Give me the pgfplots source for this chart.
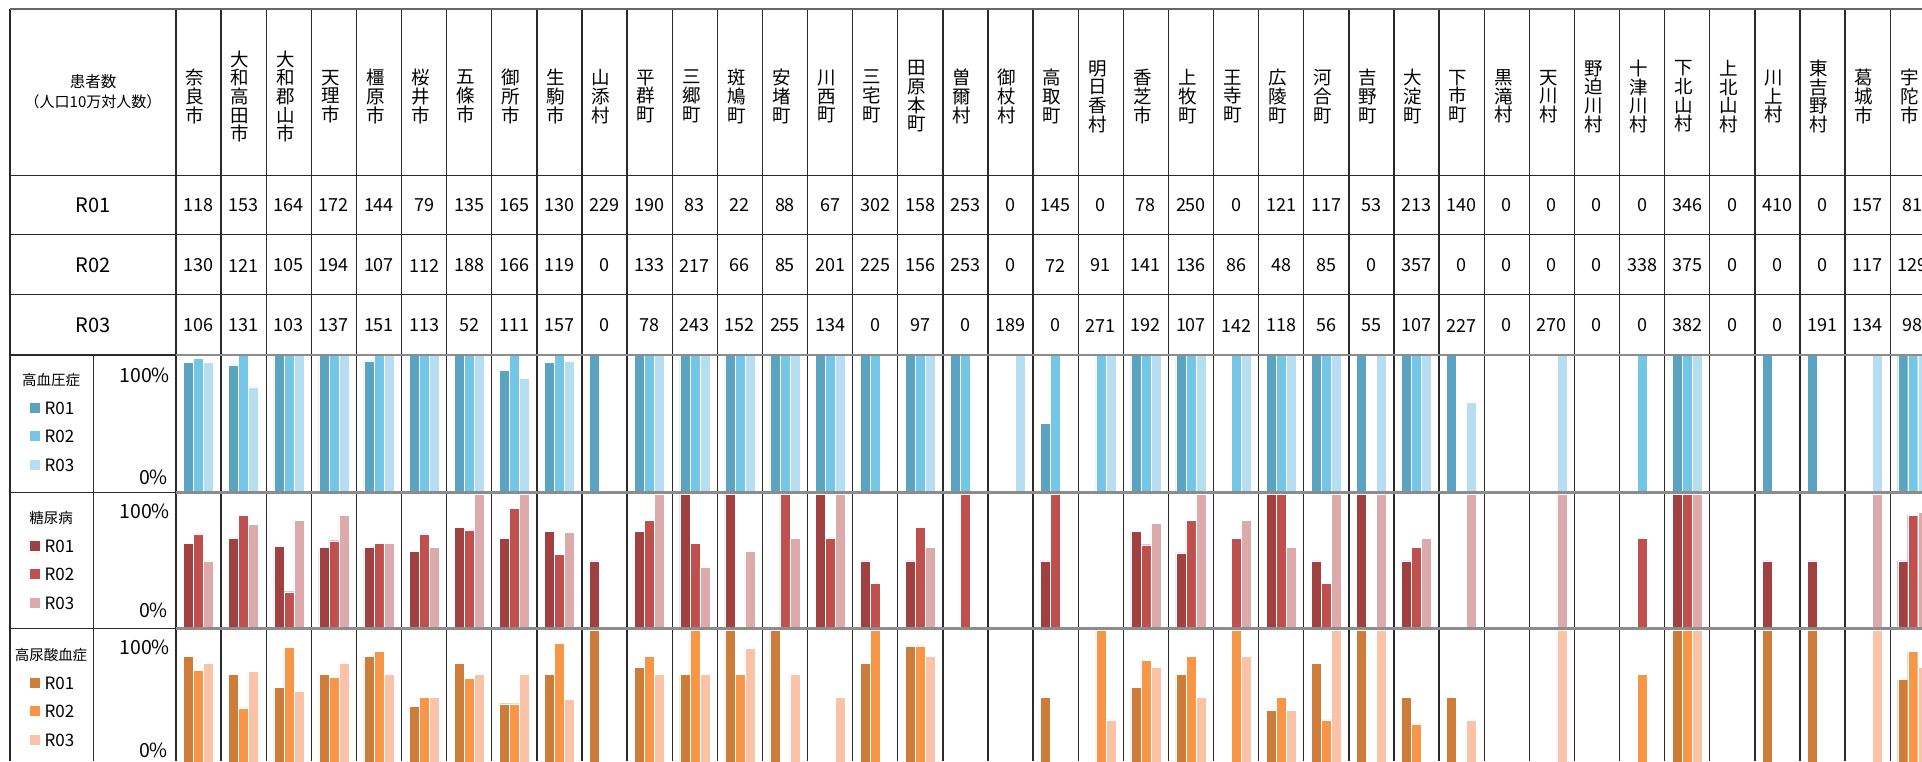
\documentclass[border=0pt]{standalone}
\usepackage{fontspec}
\usepackage{pgfplots}
\usepackage{pgfplotstable}
\pgfplotsset{compat=1.18}
\newfontfamily\jp{Noto Sans CJK JP}

\definecolor{hA}{HTML}{5BA4C1}
\definecolor{hB}{HTML}{74C6E6}
\definecolor{hC}{HTML}{B6DEF0}
\definecolor{dA}{HTML}{A04040}
\definecolor{dB}{HTML}{C0504D}
\definecolor{dC}{HTML}{DCAAAA}
\definecolor{uA}{HTML}{CD7C39}
\definecolor{uB}{HTML}{F79646}
\definecolor{uC}{HTML}{FAC2A6}
\definecolor{gridgray}{HTML}{8C8C8C}
\definecolor{lineblk}{HTML}{2A2A2A}

% hypertension share (%)
\pgfplotstableread{
x R01 R02 R03
0.5 95 98 95
1.5 93 100 77
2.5 100 100 100
3.5 100 100 100
4.5 96 100 100
5.5 100 100 100
6.5 100 100 100
7.5 89 100 83
8.5 95 100 96
9.5 100 0 0
10.5 100 100 100
11.5 100 100 100
12.5 100 100 100
13.5 100 100 100
14.5 100 100 100
15.5 100 100 0
16.5 100 100 100
17.5 100 100 0
18.5 0 0 100
19.5 50 100 0
20.5 0 100 100
21.5 100 100 100
22.5 100 100 100
23.5 0 100 100
24.5 100 100 100
25.5 100 100 100
26.5 100 0 100
27.5 100 100 100
28.5 100 0 66
29.5 0 0 0
30.5 0 0 100
31.5 0 0 0
32.5 0 100 0
33.5 100 100 100
34.5 0 0 0
35.5 100 0 0
36.5 100 0 0
37.5 0 0 100
38.5 100 100 100
}\hyper

% diabetes share (%)
\pgfplotstableread{
x R01 R02 R03
0.5 63 70 50
1.5 67 84 77
2.5 61 27 80
3.5 60 65 84
4.5 60 63 63
5.5 57 70 60
6.5 75 73 100
7.5 67 89 100
8.5 72 55 71
9.5 50 0 0
10.5 72 80 100
11.5 100 63 45
12.5 100 0 57
13.5 0 100 67
14.5 100 67 100
15.5 50 33 0
16.5 50 75 60
17.5 0 100 0
18.5 0 0 0
19.5 50 100 0
20.5 0 0 0
21.5 72 62 78
22.5 56 80 100
23.5 0 67 80
24.5 100 100 60
25.5 50 33 100
26.5 100 0 100
27.5 50 60 67
28.5 0 0 100
29.5 0 0 0
30.5 0 0 100
31.5 0 0 0
32.5 0 67 0
33.5 100 100 100
34.5 0 0 0
35.5 50 0 0
36.5 50 0 0
37.5 0 0 100
38.5 50 84 86
}\diab

% hyperuricemia share (%)
\pgfplotstableread{
x R01 R02 R03
0.5 80 70 75
1.5 67 42 69
2.5 57 87 54
3.5 67 65 75
4.5 80 84 67
5.5 43 50 50
6.5 75 64 67
7.5 45 45 67
8.5 67 90 48
9.5 100 0 0
10.5 72 80 67
11.5 67 100 67
12.5 100 67 86
13.5 100 0 67
14.5 0 0 50
15.5 75 100 0
16.5 88 88 80
17.5 0 0 0
18.5 0 0 0
19.5 50 0 0
20.5 0 100 33
21.5 57 77 72
22.5 67 80 50
23.5 0 100 80
24.5 40 50 40
25.5 75 33 100
26.5 100 0 100
27.5 50 30 0
28.5 50 0 33
29.5 0 0 0
30.5 0 0 100
31.5 0 0 0
32.5 0 67 0
33.5 100 100 100
34.5 0 0 0
35.5 100 0 0
36.5 100 0 0
37.5 0 0 100
38.5 63 84 72
}\uric

\pgfplotsset{
  barrow/.style n args={2}{at={(176pt,#1)}, anchor=south west,
    scale only axis, width=1759.3pt, height=#2,
    xmin=0, xmax=39, ymin=0, ymax=100, hide axis, clip=true},
  b1/.style={ybar, bar width=10pt, bar shift=-10pt, draw=white, line width=0.4pt, fill=#1},
  b2/.style={ybar, bar width=10pt, bar shift=0pt, draw=white, line width=0.4pt, fill=#1},
  b3/.style={ybar, bar width=10pt, bar shift=10pt, draw=white, line width=0.4pt, fill=#1},
}

\begin{document}
\begin{tikzpicture}
\useasboundingbox (0,0) rectangle (1922pt,761pt);
\clip (0,0) rectangle (1922pt,761pt);

\begin{axis}[barrow={269pt}{136.7pt}]
\addplot[b1=hA] table[x=x,y=R01]{\hyper};
\addplot[b2=hB] table[x=x,y=R02]{\hyper};
\addplot[b3=hC] table[x=x,y=R03]{\hyper};
\end{axis}
\begin{axis}[barrow={133pt}{134.3pt}]
\addplot[b1=dA] table[x=x,y=R01]{\diab};
\addplot[b2=dB] table[x=x,y=R02]{\diab};
\addplot[b3=dC] table[x=x,y=R03]{\diab};
\end{axis}
\begin{axis}[barrow={-3.3pt}{134.6pt}]
\addplot[b1=uA] table[x=x,y=R01]{\uric};
\addplot[b2=uB] table[x=x,y=R02]{\uric};
\addplot[b3=uC] table[x=x,y=R03]{\uric};
\end{axis}

\begin{scope}[x=1pt, y=-1pt, yshift=761pt]
% column separators
\foreach \i in {0,...,38}
  \draw[lineblk, line width=1.3pt] ({176+45.11*\i},9) -- ({176+45.11*\i},761);
\draw[lineblk, line width=1.3pt] (10,9) -- (10,761);
\draw[lineblk, line width=1.3pt] (93.6,354.5) -- (93.6,761);
% horizontal rules
\draw[black!60, line width=2pt] (10,9) -- (1922,9);
\foreach \yy in {175.5,234.5,294.5}
  \draw[lineblk, line width=1.5pt] (10,\yy) -- (1922,\yy);
\foreach \yy in {355,492.5,628.5}{
  \draw[lineblk, line width=1.5pt] (10,\yy) -- (176,\yy);
  \draw[gridgray, line width=2.6pt] (176,\yy) -- (1922,\yy);
}

% header
\node[font=\jp\fontsize{15.5}{18}\selectfont, inner sep=0pt] at (93,82) {患者数};
\node[font=\jp\fontsize{15}{18}\selectfont, inner sep=0pt] at (93,101.5) {（人口10万対人数）};
\node[font=\jp\fontsize{20}{22}\selectfont, inner sep=0pt] at (93,205) {R01};
\node[font=\jp\fontsize{20}{22}\selectfont, inner sep=0pt] at (93,265.5) {R02};
\node[font=\jp\fontsize{20}{22}\selectfont, inner sep=0pt] at (93,325.5) {R03};

% municipality names
\foreach \nm [count=\i from 0] in {奈\\良\\市, 大\\和\\高\\田\\市, 大\\和\\郡\\山\\市, 天\\理\\市, 橿\\原\\市, 桜\\井\\市, 五\\條\\市, 御\\所\\市, 生\\駒\\市, 山\\添\\村, 平\\群\\町, 三\\郷\\町, 斑\\鳩\\町, 安\\堵\\町, 川\\西\\町, 三\\宅\\町, 田\\原\\本\\町, 曽\\爾\\村, 御\\杖\\村, 高\\取\\町, 明\\日\\香\\村, 香\\芝\\市, 上\\牧\\町, 王\\寺\\町, 広\\陵\\町, 河\\合\\町, 吉\\野\\町, 大\\淀\\町, 下\\市\\町, 黒\\滝\\村, 天\\川\\村, 野\\迫\\川\\村, 十\\津\\川\\村, 下\\北\\山\\村, 上\\北\\山\\村, 川\\上\\村, 東\\吉\\野\\村, 葛\\城\\市, 宇\\陀\\市}
  \node[font=\jp\fontsize{18.5}{18.7}\selectfont, align=center, inner sep=0pt] at ({176+45.11*\i+22.55-3.5},96.5) {\nm};

% patient counts
\foreach \n [count=\i from 0] in {118,153,164,172,144,79,135,165,130,229,190,83,22,88,67,302,158,253,0,145,0,78,250,0,121,117,53,213,140,0,0,0,0,346,0,410,0,157,81}
  \node[font=\jp\fontsize{18}{20}\selectfont, inner sep=0pt] at ({176+45.11*\i+22.55},205) {\n};
\foreach \n [count=\i from 0] in {130,121,105,194,107,112,188,166,119,0,133,217,66,85,201,225,156,253,0,72,91,141,136,86,48,85,0,357,0,0,0,0,338,375,0,0,0,117,129}
  \node[font=\jp\fontsize{18}{20}\selectfont, inner sep=0pt] at ({176+45.11*\i+22.55},265.5) {\n};
\foreach \n [count=\i from 0] in {106,131,103,137,151,113,52,111,157,0,78,243,152,255,134,0,97,0,189,0,271,192,107,142,118,56,55,107,227,0,270,0,0,382,0,0,191,134,98}
  \node[font=\jp\fontsize{18}{20}\selectfont, inner sep=0pt] at ({176+45.11*\i+22.55},325.5) {\n};

% bar row labels and legends
\foreach \tp/\ttl/\ca/\cb/\cc/\hi/\lo in {355/高血圧症/hA/hB/hC/375/477, 493/糖尿病/dA/dB/dC/511/610, 630/高尿酸血症/uA/uB/uC/647/750.5}{
  \node[font=\jp\fontsize{14.5}{16}\selectfont, inner sep=0pt] at (51,{\tp+25}) {\ttl};
  \fill[\ca] (29.5,{\tp+53-5.25}) rectangle ++(10.5,10.5);
  \fill[\cb] (29.5,{\tp+81-5.25}) rectangle ++(10.5,10.5);
  \fill[\cc] (29.5,{\tp+110-5.25}) rectangle ++(10.5,10.5);
  \node[font=\jp\fontsize{17}{19}\selectfont, inner sep=0pt, anchor=west] at (44.5,{\tp+53}) {R01};
  \node[font=\jp\fontsize{17}{19}\selectfont, inner sep=0pt, anchor=west] at (44.5,{\tp+81}) {R02};
  \node[font=\jp\fontsize{17}{19}\selectfont, inner sep=0pt, anchor=west] at (44.5,{\tp+110}) {R03};
  \node[font=\jp\fontsize{19.5}{21}\selectfont, inner sep=0pt, anchor=east] at (170,\hi) {100\%};
  \node[font=\jp\fontsize{19.5}{21}\selectfont, inner sep=0pt, anchor=east] at (168,\lo) {0\%};
}
\end{scope}
\end{tikzpicture}
\end{document}
